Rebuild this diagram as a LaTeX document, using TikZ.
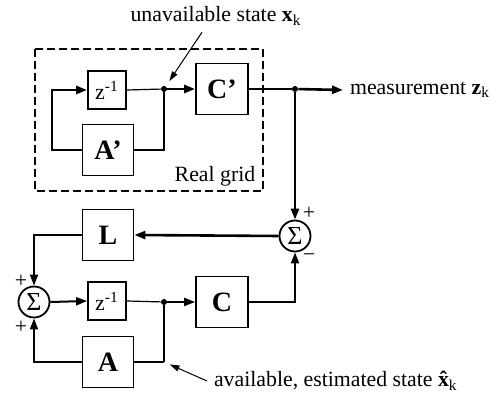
\documentclass[tikz,border=0pt]{standalone}
\usepackage{fontspec}
\setmainfont{Liberation Serif}
\usetikzlibrary{arrows.meta}

\begin{document}
\begin{tikzpicture}[x=0.5pt,y=-0.5pt,
  every node/.style={font=\fontsize{10.9}{12}\selectfont},
  blk/.style={draw, line width=0.9pt, minimum width=25.5pt, minimum height=25.5pt, inner sep=0pt, font=\fontsize{14}{15}\selectfont\bfseries},
  dly/.style={draw, line width=0.9pt, minimum width=19pt, minimum height=19pt, inner sep=0pt, font=\fontsize{11}{12}\selectfont},
  sum/.style={draw, circle, line width=0.9pt, minimum size=15.5pt, inner sep=0pt, font=\fontsize{13}{14}\selectfont},
  dot/.style={circle, fill, inner sep=0pt, minimum size=3pt},
  sig/.style={line width=1.3pt, -{Triangle[length=5.5pt,width=4pt]}},
  wire/.style={line width=1.3pt},
  thinwire/.style={line width=0.6pt},
  pointer/.style={line width=0.5pt, -{Triangle[length=5pt,width=3pt]}}]
  \useasboundingbox (0,0) rectangle (503,394);
  % Real grid
  \draw[line width=0.75pt, dash pattern=on 4pt off 2pt] (35,49) rectangle (263,191);
  \node (rg) at (215,176) {Real grid};
  \node[dly] (zt) at (107,90) {z\textsuperscript{-1}};
  \node[blk] (Ap) at (108,150) {A'};
  \node[blk, minimum width=26pt] (Cp) at (222,89) {C'};
  \node[dot] (d1) at (164,89) {};
  \node[dot] (d2) at (295,89) {};
  \coordinate (lp) at (52,150);
  \node (unav) at (216,16) {unavailable state \textbf{x}\textsubscript{k}};
  \node[anchor=west] (meas) at (343,90) {measurement \textbf{z}\textsubscript{k}};
  % Observer
  \node[sum] (sR) at (295,236) {Σ};
  \node[blk] (L) at (108,235) {L};
  \node[sum] (sL) at (34,302) {Σ};
  \node[dly] (z2) at (107,301) {z\textsuperscript{-1}};
  \node[blk, minimum width=26pt] (C) at (222,302) {C};
  \node[dot] (d3) at (164,302) {};
  \node[blk] (A) at (108,362) {A};
  \coordinate (ac) at (d3 |- A.east);
  \node[anchor=west] (avail) at (207,381) {available, estimated state \textbf{\ooalign{x\cr\hidewidth ˆ\hidewidth\cr}}\textsubscript{k}};
  % Signs
  \node (p1) at (309,213) {+};
  \node (m1) at (309,258) {−};
  \node (p2) at (21,281) {+};
  \node (p3) at (21,327) {+};
  % Connections
  \draw[sig] (Ap.west) -- (lp) |- (zt.west);
  \draw[thinwire] (zt.east) -- (d1);
  \draw[sig] (d1) -- (Cp.west);
  \draw[wire] (d1) |- (Ap.east);
  \draw[thinwire] (Cp.east) -- (d2);
  \draw[sig] (d2) -- (meas.west);
  \draw[sig] (d2) -- (sR.north);
  \draw[sig] (sR.west) -- (L.east);
  \draw[sig, line width=0.9pt] (L.west) -| (sL.north);
  \draw[sig, line width=1pt] (sL.east) -- (z2.west);
  \draw[thinwire] (z2.east) -- (d3);
  \draw[sig, line width=1pt] (d3) -- (C.west);
  \draw[line width=1pt] (d3) -- (ac);
  \draw[wire] (ac) -- (A.east);
  \draw[sig, line width=1pt] (A.west) -| (sL.south);
  \draw[sig, line width=1pt] (C.east) -| (sR.south);
  \draw[pointer, shorten >=3pt] ([xshift=-7pt]unav.south) -- (d1);
  \draw[pointer, shorten >=3pt] (avail.west) -- (ac);
\end{tikzpicture}
\end{document}
